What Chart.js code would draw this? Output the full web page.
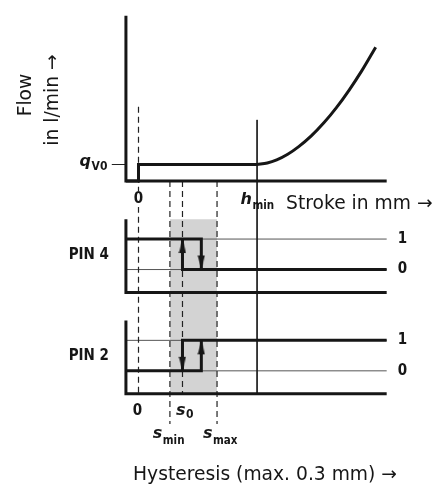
<!DOCTYPE html>
<html>
<head>
<meta charset="utf-8">
<script src="https://cdn.jsdelivr.net/npm/chart.js"></script>
<style>
html, body { margin: 0; padding: 0; background: #fff; }
#wrap { width: 438px; height: 484px; }
</style>
</head>
<body>
<div id="wrap"><canvas id="myChart" width="438" height="484"></canvas></div>
<script>
// stroke positions in mm (s_max - s_min = 0.3 mm hysteresis)
var strokeStart = -0.08, strokeEnd = 1.58;
var sMin = 0.2, s0 = 0.28, sOff = 0.4, sMax = 0.5, hMin = 0.755;

// flow over stroke (schematic l/min)
var qV0 = 1, flowTop = 10;
var stepX = [strokeStart, 0, 0, hMin];
var stepY = [0, 0, qV0, qV0];
var curveX = [0.755, 0.82, 0.88, 0.95, 1.02, 1.1, 1.18, 1.26, 1.34, 1.42, 1.51];
var curveY = [1, 1.09, 1.28, 1.62, 2.08, 2.73, 3.52, 4.44, 5.49, 6.65, 8.1];

// switch signal of the two pins (0 / 1)
var pinLow = -0.75, pinHigh = 1.65;
var pin4HighX = [strokeStart, sOff, sOff], pin4HighY = [1, 1, 0];
var pin4LowX = [s0, s0, strokeEnd], pin4LowY = [1, 0, 0];
var pin2LowX = [strokeStart, sOff, sOff], pin2LowY = [0, 0, 1];
var pin2HighX = [s0, s0, strokeEnd], pin2HighY = [0, 1, 1];

// guide lines, drawn on the flow scale (reach down into the pin panels)
var guideX = [0, sMin, s0, sMax];
var guideTop = [4.5, 0, 0, 0];
var guideBottom = [-12.9, -14.7, -12.9, -14.7];
var hMinTop = 3.7, hMinBottom = -12.9;

var W = 438, H = 484;
var COND = '"DejaVu Sans Condensed", "DejaVu Sans"';
var INK = '#161616';

function pts(xs, ys) {
    return xs.map(function (x, i) { return { x: x, y: ys[i] }; });
}
function yRange(zeroPx, perUnit) {
    return { min: -(H - zeroPx) / perUnit, max: zeroPx / perUnit };
}
function line(data, axis, width, color, order, extra) {
    return Object.assign({
        data: data, yAxisID: axis, borderColor: color, borderWidth: width,
        pointRadius: 0, borderJoinStyle: 'miter', fill: false, order: order
    }, extra || {});
}

// arrow head image, tip in the middle so it sits on the data point
var arrowImg = document.createElement('canvas');
arrowImg.width = 8; arrowImg.height = 30;
var ac = arrowImg.getContext('2d');
ac.fillStyle = INK;
ac.beginPath(); ac.moveTo(4, 15); ac.lineTo(7.6, 29); ac.lineTo(0.4, 29); ac.closePath(); ac.fill();

var datasets = [];
// gray hysteresis band
datasets.push(line(pts([sMin, sMax], [pinHigh, pinHigh]), 'yPin4', 0, 'rgba(0,0,0,0)', 9,
    { fill: '+1', backgroundColor: '#d3d3d3' }));
datasets.push(line(pts([sMin, sMax], [pinLow, pinLow]), 'yPin2', 0, 'rgba(0,0,0,0)', 9));

// thin level lines
['yPin4', 'yPin2'].forEach(function (ax) {
    datasets.push(line(pts([strokeStart, strokeEnd], [1, 1]), ax, 1, '#555', 8));
    datasets.push(line(pts([strokeStart, strokeEnd], [0, 0]), ax, 1, '#555', 8));
});

// guide lines
guideX.forEach(function (gx, i) {
    datasets.push(line(pts([gx, gx], [guideTop[i], guideBottom[i]]), 'yFlow', 1.2, '#222', 7,
        { borderDash: [6, 4] }));
});
datasets.push(line(pts([hMin, hMin], [hMinTop, hMinBottom]), 'yFlow', 1, '#222', 7));
// q_V0 tick
datasets.push(line(pts([strokeStart - 0.09, strokeStart], [qV0, qV0]), 'yFlow', 1, '#222', 7));

// axes
datasets.push(line(pts([strokeStart, strokeStart, strokeEnd], [flowTop, 0, 0]), 'yFlow', 3, INK, 2));
datasets.push(line(pts([strokeStart, strokeStart, strokeEnd], [pinHigh, pinLow, pinLow]), 'yPin4', 3, INK, 2));
datasets.push(line(pts([strokeStart, strokeStart, strokeEnd], [pinHigh, pinLow, pinLow]), 'yPin2', 3, INK, 2));

// flow characteristic
datasets.push(line(pts(stepX, stepY), 'yFlow', 3, INK, 1));
datasets.push(line(pts(curveX, curveY), 'yFlow', 3, INK, 1, { cubicInterpolationMode: 'monotone' }));

// switching signals
datasets.push(line(pts(pin4HighX, pin4HighY), 'yPin4', 3, INK, 1));
datasets.push(line(pts(pin4LowX, pin4LowY), 'yPin4', 3, INK, 1));
datasets.push(line(pts(pin2LowX, pin2LowY), 'yPin2', 3, INK, 1));
datasets.push(line(pts(pin2HighX, pin2HighY), 'yPin2', 3, INK, 1));

// arrow heads
datasets.push(line(pts([s0, sOff], [1, 0]), 'yPin4', 0, INK, 0,
    { showLine: false, pointRadius: 4, pointStyle: arrowImg, pointRotation: [0, 180] }));
datasets.push(line(pts([s0, sOff], [0, 1]), 'yPin2', 0, INK, 0,
    { showLine: false, pointRadius: 4, pointStyle: arrowImg, pointRotation: [180, 0] }));

function sym(c, main, sub, x, base, drop, align, subSize) {
    var mainFont = 'italic bold 16px "DejaVu Sans"';
    var subFont = 'bold ' + subSize + 'px ' + COND;
    c.font = mainFont; var w1 = c.measureText(main).width;
    c.font = subFont; var w2 = c.measureText(sub).width;
    var left = align === 'center' ? x - (w1 + w2) / 2 : (align === 'right' ? x - w1 - w2 : x);
    c.textAlign = 'left'; c.textBaseline = 'alphabetic';
    c.font = mainFont; c.fillText(main, left, base);
    c.font = subFont; c.fillText(sub, left + w1 + 0.5, base + drop);
}

var labelsPlugin = {
    id: 'labels',
    afterDatasetsDraw: function (chart) {
        var c = chart.ctx, s = chart.scales;
        var X = function (v) { return s.x.getPixelForValue(v); };
        var yF = function (v) { return s.yFlow.getPixelForValue(v); };
        var y4 = function (v) { return s.yPin4.getPixelForValue(v); };
        var y2 = function (v) { return s.yPin2.getPixelForValue(v); };
        c.save();
        c.fillStyle = INK;

        c.font = '18.7px "DejaVu Sans"';
        c.textAlign = 'center'; c.textBaseline = 'alphabetic';
        c.save(); c.translate(31, 95); c.rotate(-Math.PI / 2); c.fillText('Flow', 0, 0); c.restore();
        c.save(); c.translate(58, 100); c.rotate(-Math.PI / 2); c.fillText('in l/min \u2192', 0, 0); c.restore();
        c.textAlign = 'left';
        c.fillText('Stroke in mm \u2192', X(hMin) + 29, yF(0) + 28);
        c.textAlign = 'center';
        c.fillText('Hysteresis (max. 0.3 mm) \u2192', 265, 480);

        // zero mark under the flow axis (cuts the dashed line)
        c.fillStyle = '#fff';
        c.fillRect(X(0) - 6, yF(0) + 10, 12, 16);
        c.fillStyle = INK;
        c.font = 'bold 15px ' + COND;
        c.textBaseline = 'middle';
        c.fillText('0', X(0), yF(0) + 18);
        c.fillText('0', X(0) - 1, y2(pinLow) + 17);

        c.textAlign = 'right';
        c.fillText('PIN 4', X(strokeStart) - 17, y4(0.5) + 1);
        c.fillText('PIN 2', X(strokeStart) - 17, y2(0.5) + 1);
        c.textAlign = 'left';
        [y4, y2].forEach(function (yy) {
            c.fillText('1', X(strokeEnd) + 11, yy(1));
            c.fillText('0', X(strokeEnd) + 11, yy(0));
        });

        sym(c, 'q', 'V0', X(strokeStart) - 19, yF(qV0) + 1, 4, 'right', 12);
        sym(c, 'h', 'min', X(hMin), yF(0) + 23, 5, 'center', 11.5);
        sym(c, 's', '0', X(s0) + 2, y2(pinLow) + 21, 3, 'center', 12);
        sym(c, 's', 'min', X(sMin) - 1.5, y2(pinLow) + 44, 6, 'center', 11.5);
        sym(c, 's', 'max', X(sMax) + 3, y2(pinLow) + 44, 6, 'center', 11.5);
        c.restore();
    }
};

var ctx = document.getElementById('myChart').getContext('2d');
var chart = new Chart(ctx, {
    type: 'line',
    data: { datasets: datasets },
    options: {
        responsive: false,
        animation: false,
        devicePixelRatio: 1,
        layout: { padding: 0 },
        plugins: { legend: { display: false }, tooltip: { enabled: false } },
        events: [],
        scales: {
            x: { type: 'linear', display: false, min: -137 / 160, max: (W - 137) / 160 },
            yFlow: Object.assign({ type: 'linear', display: false }, yRange(180, 16.8)),
            yPin4: Object.assign({ type: 'linear', display: false }, yRange(270, 31)),
            yPin2: Object.assign({ type: 'linear', display: false }, yRange(373, 31))
        }
    },
    plugins: [labelsPlugin]
});
</script>
</body>
</html>
